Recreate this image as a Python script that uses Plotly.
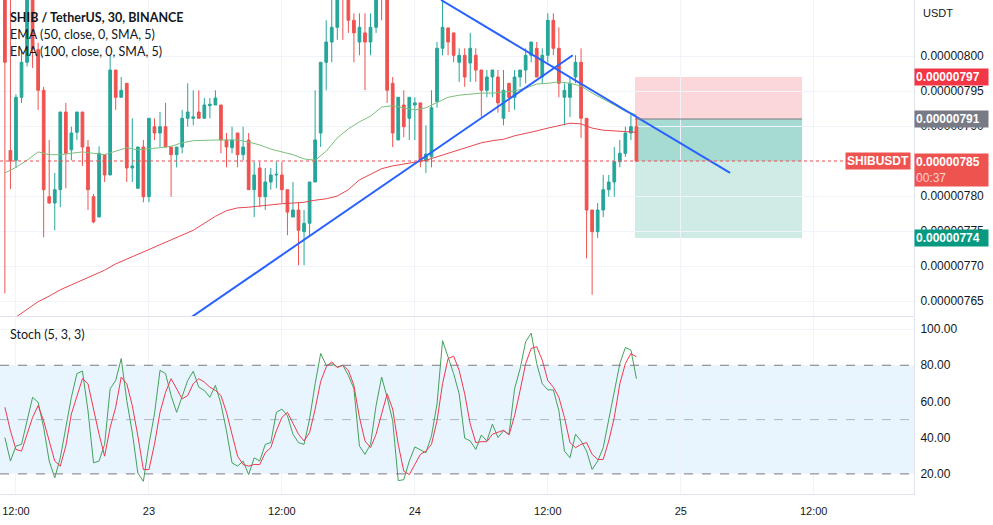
import pandas as pd
import plotly.graph_objects as go

# ---------------- data ----------------
start_time = "2021-06-22 11:00"
n_candles = 115
times = pd.date_range(start_time, periods=n_candles, freq="30min")

opens = [810e-8, 786.5e-8, 785.1e-8, 794.1e-8, 799.1e-8, 810e-8, 800.9e-8, 795.1e-8, 779.9e-8, 779e-8,
         780.9e-8, 792e-8, 786.6e-8, 789.1e-8, 792e-8, 787e-8, 779.9e-8, 777e-8, 785.9e-8, 783e-8,
         798e-8, 794.1e-8, 796.1e-8, 784e-8, 781.1e-8, 787e-8, 779.9e-8, 789.9e-8, 789e-8, 789.9e-8,
         787e-8, 785.9e-8, 787e-8, 791.1e-8, 791.1e-8, 792e-8, 791.1e-8, 792.9e-8, 793e-8, 793e-8,
         788e-8, 786.9e-8, 789e-8, 785.9e-8, 788e-8, 780.9e-8, 784e-8, 779.9e-8, 782e-8, 783e-8,
         783e-8, 780.9e-8, 777e-8, 778e-8, 774.9e-8, 776.1e-8, 782e-8, 789e-8, 799.1e-8, 802e-8,
         804.1e-8, 811e-8, 809.5e-8, 805.1e-8, 802e-8, 803.3e-8, 802e-8, 804.1e-8, 811e-8, 809e-8,
         796.1e-8, 788e-8, 793e-8, 791.1e-8, 793e-8, 793.3e-8, 785e-8, 785.6e-8, 793.5e-8, 801.1e-8,
         804e-8, 803.3e-8, 799.1e-8, 800.1e-8, 799e-8, 800.1e-8, 798e-8, 795.1e-8, 797e-8, 797e-8,
         791.1e-8, 796.1e-8, 794.1e-8, 797e-8, 798e-8, 800.1e-8, 801.1e-8, 797e-8, 800.1e-8, 805.1e-8,
         801.1e-8, 794.1e-8, 794.1e-8, 797e-8, 799.1e-8, 791.1e-8, 778e-8, 774.9e-8, 778e-8, 780.9e-8,
         782e-8, 784.9e-8, 786.1e-8, 789e-8, 789.9e-8]
highs = [812e-8, 812e-8, 794.5e-8, 800.9e-8, 812e-8, 812e-8, 801.9e-8, 795.6e-8, 788e-8, 783.3e-8,
         792e-8, 793.3e-8, 789.9e-8, 792e-8, 792e-8, 788e-8, 780.3e-8, 787.1e-8, 785.9e-8, 800.1e-8,
         798e-8, 797e-8, 796.1e-8, 791.1e-8, 787e-8, 788e-8, 791.1e-8, 791.1e-8, 792e-8, 793.3e-8,
         787e-8, 787e-8, 792.3e-8, 796.1e-8, 795.1e-8, 795.1e-8, 794e-8, 794e-8, 795.1e-8, 793e-8,
         789e-8, 789.9e-8, 789e-8, 789.9e-8, 789e-8, 784.9e-8, 784.9e-8, 784e-8, 784e-8, 784.9e-8,
         784.9e-8, 780.9e-8, 782e-8, 779e-8, 778e-8, 782e-8, 795.1e-8, 799.1e-8, 805.1e-8, 808e-8,
         811e-8, 812e-8, 810e-8, 806.1e-8, 806.1e-8, 806.1e-8, 806.1e-8, 811e-8, 812e-8, 810e-8,
         797e-8, 794.1e-8, 795.1e-8, 794.1e-8, 794.1e-8, 793.3e-8, 790.1e-8, 795.1e-8, 802e-8, 808e-8,
         804.1e-8, 803.3e-8, 801.1e-8, 801.1e-8, 803.3e-8, 801.1e-8, 798e-8, 798e-8, 798e-8, 798e-8,
         798e-8, 796.1e-8, 798e-8, 798e-8, 801.1e-8, 802e-8, 802e-8, 801.1e-8, 806.1e-8, 806.1e-8,
         804.1e-8, 796.1e-8, 797e-8, 800.1e-8, 801.1e-8, 791.1e-8, 778e-8, 779e-8, 783e-8, 783e-8,
         787e-8, 788e-8, 789.9e-8, 791.6e-8, 791.3e-8]
lows = [766.1e-8, 781e-8, 784e-8, 793.3e-8, 798.5e-8, 798.3e-8, 792.3e-8, 774.1e-8, 778.9e-8, 775.1e-8,
        778.4e-8, 781.1e-8, 785.1e-8, 788e-8, 784.3e-8, 778e-8, 776.1e-8, 777e-8, 782e-8, 783e-8,
        792.3e-8, 794.1e-8, 782e-8, 782e-8, 781.1e-8, 779.1e-8, 779.1e-8, 788e-8, 787e-8, 787e-8,
        779.9e-8, 784.1e-8, 786.1e-8, 789.9e-8, 790.1e-8, 791.1e-8, 791.1e-8, 791.1e-8, 793e-8, 786.1e-8,
        784.1e-8, 786.1e-8, 784.1e-8, 785.1e-8, 780.9e-8, 777e-8, 778.4e-8, 778e-8, 780.9e-8, 781.1e-8,
        779e-8, 774.4e-8, 777e-8, 770.1e-8, 770.1e-8, 774.4e-8, 782e-8, 787e-8, 795.1e-8, 799.1e-8,
        802.3e-8, 802.3e-8, 803.3e-8, 799.1e-8, 800.1e-8, 795.1e-8, 800.1e-8, 803.3e-8, 805.1e-8, 793.3e-8,
        787e-8, 788e-8, 788.4e-8, 788e-8, 788e-8, 784.1e-8, 783.3e-8, 784.1e-8, 792.6e-8, 800.1e-8,
        800.1e-8, 799.1e-8, 796.3e-8, 795.6e-8, 796.3e-8, 796.3e-8, 791.3e-8, 794.1e-8, 794.1e-8, 791.9e-8,
        790.1e-8, 792e-8, 792.3e-8, 795.6e-8, 796.1e-8, 799.1e-8, 797e-8, 796.1e-8, 799.1e-8, 800.1e-8,
        794.1e-8, 790.1e-8, 791.3e-8, 796.1e-8, 788.3e-8, 771.1e-8, 765.9e-8, 774e-8, 777e-8, 779.9e-8,
        779.9e-8, 784.1e-8, 785.6e-8, 788e-8, 784.9e-8]
closes = [799.1e-8, 785e-8, 794.1e-8, 799.1e-8, 810e-8, 801e-8, 795.1e-8, 780.9e-8, 779e-8, 780.9e-8,
          792e-8, 786.1e-8, 789e-8, 792e-8, 787e-8, 780.9e-8, 776.3e-8, 786.1e-8, 783e-8, 798e-8,
          794.1e-8, 795.1e-8, 784e-8, 784.3e-8, 787e-8, 779.9e-8, 791.1e-8, 789e-8, 789.9e-8, 787e-8,
          785.9e-8, 787e-8, 791.1e-8, 792e-8, 791.3e-8, 791.1e-8, 793e-8, 793.1e-8, 794e-8, 788e-8,
          787e-8, 788e-8, 785.9e-8, 787e-8, 780.9e-8, 783e-8, 779.9e-8, 782e-8, 783e-8, 783.1e-8,
          780.9e-8, 777.7e-8, 778e-8, 775.1e-8, 776.1e-8, 782e-8, 788e-8, 799.1e-8, 802e-8, 804.1e-8,
          809e-8, 809.5e-8, 805.1e-8, 803.3e-8, 804.1e-8, 802e-8, 804.1e-8, 809e-8, 809e-8, 795.1e-8,
          789e-8, 794.1e-8, 789.9e-8, 794.1e-8, 793.3e-8, 784.9e-8, 786e-8, 792.6e-8, 801.1e-8, 804.1e-8,
          802e-8, 800.1e-8, 800.1e-8, 797e-8, 801.1e-8, 798e-8, 795.1e-8, 797e-8, 798e-8, 793.3e-8,
          795.1e-8, 794.1e-8, 797e-8, 798e-8, 800.1e-8, 802e-8, 797e-8, 800.1e-8, 805.1e-8, 801.1e-8,
          796.1e-8, 795.1e-8, 796.1e-8, 799.1e-8, 791.1e-8, 778e-8, 774.9e-8, 778e-8, 780.9e-8, 782e-8,
          784.9e-8, 786.1e-8, 789e-8, 789.9e-8, 785e-8]

# EMAs read every second candle
ema50 = [783.3e-8, 784.1e-8, 785.1e-8, 786.3e-8, 785.9e-8, 785.9e-8, 786.1e-8, 786.3e-8, 786.1e-8, 785.9e-8,
         786.4e-8, 786.9e-8, 786.6e-8, 786.7e-8, 786.9e-8, 787.1e-8, 787.6e-8, 787.9e-8, 788e-8, 788e-8,
         788e-8, 788e-8, 787.7e-8, 787.3e-8, 786.7e-8, 786.3e-8, 785.9e-8, 785.3e-8, 785.1e-8, 786.4e-8,
         788.3e-8, 789.6e-8, 790.6e-8, 791.4e-8, 792.7e-8, 792.9e-8, 792.6e-8, 792.3e-8, 792.6e-8, 793.4e-8,
         794.1e-8, 794.4e-8, 794.6e-8, 794.7e-8, 794.7e-8, 794.9e-8, 795e-8, 795.4e-8, 796e-8, 796.1e-8,
         796.3e-8, 796.1e-8, 795.7e-8, 794.7e-8, 793.9e-8, 793e-8, 792.1e-8, 791.6e-8]
ema100 = [761.6e-8, 762.7e-8, 763.7e-8, 764.9e-8, 765.7e-8, 766.6e-8, 767.3e-8, 768e-8, 768.7e-8, 769.4e-8,
          770.3e-8, 771e-8, 771.7e-8, 772.4e-8, 773e-8, 773.7e-8, 774.4e-8, 775.1e-8, 776.1e-8, 777.1e-8,
          777.9e-8, 778.3e-8, 778.4e-8, 778.6e-8, 778.7e-8, 778.9e-8, 779e-8, 779.1e-8, 779.4e-8, 779.6e-8,
          780e-8, 780.9e-8, 782.3e-8, 783.1e-8, 783.9e-8, 784.3e-8, 784.6e-8, 784.9e-8, 785.1e-8, 785.6e-8,
          786.1e-8, 786.6e-8, 787e-8, 787.6e-8, 787.9e-8, 788.1e-8, 788.6e-8, 788.9e-8, 789.3e-8, 789.7e-8,
          790.1e-8, 790.4e-8, 790.3e-8, 789.7e-8, 789.4e-8, 789.3e-8, 789.1e-8, 789.1e-8]

stoch_k = [40.1, 27.1, 35.4, 36.3, 49.3, 62.3, 59.6, 45.6, 27.1, 17.8,
           28.9, 45.6, 62.3, 75.4, 76.8, 54.9, 26.1, 27.1, 36.3, 67,
           71.6, 83.7, 60.5, 42.8, 20.5, 15.9, 36.3, 53.1, 77.2, 75.4,
           63.3, 54, 62.3, 71.6, 76.7, 67.9, 66.1, 62.3, 68.9, 58.6,
           43.8, 26.1, 24.3, 27.1, 19.6, 28.9, 27.1, 36.3, 37.3, 54,
           55.8, 52.1, 41.9, 37.3, 36.3, 50.3, 69.8, 86.5, 80,
           80.9, 79.1, 80, 74.4, 67, 35.4, 30.8, 36.3, 57.7, 73.5,
           62.3, 49.3, 16.3, 16.8, 27.1, 34.9, 33.5, 31.7, 41, 58.6,
           93.6, 84.6, 75.4, 64.2, 39.7, 38.2, 33.5, 41.5, 38.2, 47.5,
           40.1, 43.8, 41.9, 67, 78.1, 93, 97.7, 80.9, 69.8, 66.4,
           66.4, 54.9, 32.6, 28.9, 41.9, 38.2, 32.6, 22.4, 27.1, 34.5,
           49.3, 66.1, 80.9, 89.8, 88.4, 72.6]
stoch_d = [56.8, 43.8, 33.5, 32.6, 41.9, 51.2, 57.7, 49.3, 38.2, 27.1,
           24.3, 35.4, 53.1, 63.3, 72.6, 69.8, 54.9, 41.9, 29.8, 45.6,
           56.8, 73.5, 69.8, 57.7, 41, 22.4, 22.4, 36.3, 54, 65.1,
           72.6, 67, 61.4, 63.3, 69.8, 72.6, 70.7, 67.9, 66.1, 63.3,
           54, 41.9, 29.8, 25.2, 24.3, 25.2, 25.2, 31.7, 34.5, 43.8,
           51.2, 54, 47.5, 41.9, 38.2, 42.8, 55.8, 71, 79.1,
           81.9, 78.7, 80, 77.2, 68.9, 51.2, 38.2, 34.5, 41.9, 53.1,
           64.2, 55.8, 36.3, 21.5, 19.6, 25.2, 30.8, 32.6, 36.3, 49.3,
           69.8, 83.7, 85, 77.2, 64.2, 47.5, 37.3, 37.8, 37.8, 41.9,
           42.8, 44.1, 41.5, 52.1, 66.1, 80.9, 89.3, 90.2, 82.8, 71.6,
           67.9, 62.3, 51.2, 37.3, 34.5, 36.3, 37.3, 30.8, 28, 28,
           38.2, 51.2, 69.8, 80.9, 86.5, 84.6]

# drawings
trend1_t = ["2021-06-23 02:00", "2021-06-24 14:15"]
trend1_p = [760.7e-8, 800.1e-8]
trend2_t = ["2021-06-24 02:22", "2021-06-25 04:27"]
trend2_p = [808.0e-8, 783.3e-8]

pos_start, pos_end = "2021-06-24 19:52", "2021-06-25 10:57"
pos_stop, pos_entry, pos_target = 797e-8, 791e-8, 774e-8
last_price = 785e-8
countdown = "00:37"

price_ticks = [765e-8, 770e-8, 775e-8, 780e-8, 790e-8, 795e-8, 800e-8]
price_grid = [785e-8]
price_range = [762.857e-8, 808.0e-8]
stoch_ticks = [20, 40, 60, 80, 100]
stoch_range = [8.9, 106.1]
x_range = ["2021-06-22 10:33:30", "2021-06-25 21:03"]
x_tickvals = ["2021-06-22 12:00", "2021-06-23 00:00", "2021-06-23 12:00", "2021-06-24 00:00",
              "2021-06-24 12:00", "2021-06-25 00:00", "2021-06-25 12:00"]
x_ticktext = ["12:00", "23", "12:00", "24", "12:00", "25", "12:00"]

# ---------------- figure ----------------
GREEN = "#26a69a"
RED = "#ef5350"
GRID = "#f0f3fa"
FRAME = "#e0e3eb"
TXT = "#131722"
XR = 914 / 993

fig = go.Figure()

fig.add_trace(go.Candlestick(
    x=times, open=opens, high=highs, low=lows, close=closes,
    increasing=dict(line=dict(color=GREEN, width=1), fillcolor=GREEN),
    decreasing=dict(line=dict(color=RED, width=1), fillcolor=RED),
    xaxis="x", yaxis="y", hoverinfo="skip"))

fig.add_trace(go.Scatter(x=times[::2], y=ema50, mode="lines",
                         line=dict(color="#7cbf7c", width=1), xaxis="x", yaxis="y"))
fig.add_trace(go.Scatter(x=times[::2], y=ema100, mode="lines",
                         line=dict(color="#e8474f", width=1), xaxis="x", yaxis="y"))

fig.add_trace(go.Scatter(x=trend1_t, y=trend1_p, mode="lines",
                         line=dict(color="#2962ff", width=2), xaxis="x", yaxis="y"))
fig.add_trace(go.Scatter(x=trend2_t, y=trend2_p, mode="lines",
                         line=dict(color="#2962ff", width=2), xaxis="x", yaxis="y"))

fig.add_trace(go.Scatter(x=times, y=stoch_k, mode="lines",
                         line=dict(color="#43a25a", width=1), xaxis="x2", yaxis="y2"))
fig.add_trace(go.Scatter(x=times, y=stoch_d, mode="lines",
                         line=dict(color="#f0394f", width=1), xaxis="x2", yaxis="y2"))

shapes = []
# grid line hidden behind the last-price label
for g in price_grid:
    shapes.append(dict(type="line", xref="x domain", yref="y", x0=0, x1=1, y0=g, y1=g,
                       line=dict(color=GRID, width=1), layer="below"))
# position tool (short)
shapes.append(dict(type="rect", xref="x", yref="y", x0=pos_start, x1=pos_end, y0=pos_entry, y1=pos_stop,
                   fillcolor="rgba(242,54,69,0.2)", line=dict(width=0), layer="below"))
shapes.append(dict(type="rect", xref="x", yref="y", x0=pos_start, x1=pos_end, y0=pos_target, y1=pos_entry,
                   fillcolor="rgba(8,153,129,0.2)", line=dict(width=0), layer="below"))
shapes.append(dict(type="rect", xref="x", yref="y", x0=pos_start, x1=pos_end, y0=last_price, y1=pos_entry,
                   fillcolor="rgba(8,153,129,0.2)", line=dict(width=0), layer="below"))
shapes.append(dict(type="line", xref="x", yref="y", x0=pos_start, x1=pos_end, y0=pos_entry, y1=pos_entry,
                   line=dict(color="#787b86", width=1)))
# last price line
shapes.append(dict(type="line", xref="paper", yref="y", x0=0, x1=0.857, y0=last_price, y1=last_price,
                   line=dict(color=RED, width=1, dash="dot")))
# stoch band
shapes.append(dict(type="rect", xref="x2 domain", yref="y2", x0=0, x1=1, y0=20, y1=80,
                   fillcolor="rgba(33,150,243,0.1)", line=dict(width=0), layer="below"))
for lvl, col in [(80, "#787b86"), (20, "#787b86"), (50, "rgba(120,123,134,0.5)")]:
    shapes.append(dict(type="line", xref="x2 domain", yref="y2", x0=0, x1=1, y0=lvl, y1=lvl,
                       line=dict(color=col, width=1, dash="dash")))

annotations = []
legend_font = dict(family="Lato", size=12.5, color=TXT)
annotations.append(dict(xref="paper", yref="paper", x=8 / 993, y=1 - 17 / 525, xanchor="left", yanchor="middle",
                        text="<b>SHIB / TetherUS, 30, BINANCE</b>", showarrow=False, font=legend_font))
annotations.append(dict(xref="paper", yref="paper", x=8 / 993, y=1 - 34 / 525, xanchor="left", yanchor="middle",
                        text="EMA (50, close, 0, SMA, 5)", showarrow=False, font=legend_font))
annotations.append(dict(xref="paper", yref="paper", x=8 / 993, y=1 - 51 / 525, xanchor="left", yanchor="middle",
                        text="EMA (100, close, 0, SMA, 5)", showarrow=False, font=legend_font))
annotations.append(dict(xref="paper", yref="paper", x=8 / 993, y=1 - 334 / 525, xanchor="left", yanchor="middle",
                        text="Stoch (5, 3, 3)", showarrow=False, font=legend_font))
annotations.append(dict(xref="paper", yref="paper", x=XR + 7 / 993, y=1 - 13 / 525, xanchor="left", yanchor="middle",
                        text="USDT", showarrow=False, font=dict(family="Liberation Sans", size=11, color=TXT)))

lab_font = dict(family="Liberation Sans", size=12, color="white")
for val, bg in [(pos_stop, "#f23645"), (pos_entry, "#787b86"), (pos_target, "#089981")]:
    annotations.append(dict(xref="paper", yref="y", x=XR, y=val, xanchor="left", yanchor="middle",
                            text="<b>%.8f</b>" % val, showarrow=False, bgcolor=bg, font=lab_font,
                            width=71, align="left", borderpad=1))
annotations.append(dict(xref="paper", yref="y", x=XR, y=last_price, xanchor="left", yanchor="top", yshift=8,
                        text="<b>%.8f</b><br><span style='color:#fbd3d4'>%s</span>" % (last_price, countdown),
                        showarrow=False, bgcolor=RED, font=lab_font, width=71, align="left", borderpad=1))
annotations.append(dict(xref="paper", yref="y", x=XR, y=last_price, xanchor="right", yanchor="middle", xshift=-3,
                        text="<b>SHIBUSDT</b>", showarrow=False, bgcolor=RED, font=lab_font, borderpad=1))

fig.update_layout(
    width=993, height=525, margin=dict(l=0, r=0, t=0, b=0),
    plot_bgcolor="white", paper_bgcolor="white", showlegend=False,
    font=dict(family="Liberation Sans", size=12, color=TXT),
    shapes=shapes, annotations=annotations,
    xaxis=dict(domain=[0, XR], range=x_range, type="date", anchor="y", showticklabels=False,
               tickvals=x_tickvals, showgrid=True, gridcolor=GRID, rangeslider=dict(visible=False),
               showline=True, linecolor=FRAME, zeroline=False),
    xaxis2=dict(domain=[0, XR], range=x_range, type="date", anchor="y2", matches="x",
                tickvals=x_tickvals, ticktext=x_ticktext, showgrid=True, gridcolor=GRID,
                showline=True, linecolor=FRAME, zeroline=False, tickfont=dict(size=11, color=TXT),
                ticks="outside", ticklen=7, tickcolor="white"),
    yaxis=dict(domain=[1 - 316 / 525, 1], range=price_range, side="right", anchor="x",
               tickvals=price_ticks, tickformat=".8f", showgrid=True, gridcolor=GRID,
               showline=True, linecolor=FRAME, zeroline=False, ticks="outside", ticklen=3,
               tickcolor="white", tickfont=dict(size=12, color=TXT)),
    yaxis2=dict(domain=[1 - 494 / 525, 1 - 318 / 525], range=stoch_range, side="right", anchor="x2",
                tickvals=stoch_ticks, tickformat=".2f", showgrid=True, gridcolor=GRID,
                showline=True, linecolor=FRAME, zeroline=False, ticks="outside", ticklen=3,
                tickcolor="white", tickfont=dict(size=12, color=TXT)),
)

fig.write_html("out.html", config={"displayModeBar": False},
               post_script="document.body.style.margin='0';document.body.style.overflow='hidden';")
